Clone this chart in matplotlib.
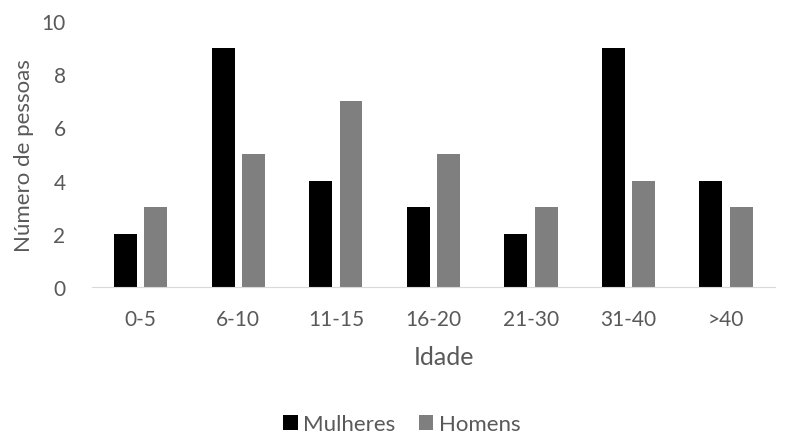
import matplotlib.pyplot as plt
import numpy as np

# age groups and counts per gender
categories = ["0-5", "6-10", "11-15", "16-20", "21-30", "31-40", ">40"]
mulheres = [2, 9, 4, 3, 2, 9, 4]
homens = [3, 5, 7, 5, 3, 4, 3]
y_ticks = [0, 2, 4, 6, 8, 10]

plt.rcParams['font.family'] = ['Lato', 'DejaVu Sans']
text_color = "#595959"

fig = plt.figure(figsize=(7.89, 4.35), dpi=100)
axes = fig.add_axes([0.1166, 0.338, 0.8654, 0.611])

x = np.arange(len(categories))
width = 0.235
axes.bar(x - 0.155, mulheres, width, color="#000000", label="Mulheres")
axes.bar(x + 0.155, homens, width, color="#7f7f7f", label="Homens")

axes.set_xlim(-0.5, len(categories) - 0.5)
axes.set_ylim(0, 10)
axes.set_xticks(x)
axes.set_xticklabels(categories)
axes.set_yticks(y_ticks)
axes.tick_params(length=0, labelsize=15, colors=text_color)
axes.tick_params(axis='x', pad=16)
axes.tick_params(axis='y', pad=19)

for side in ["top", "right", "left"]:
    axes.spines[side].set_visible(False)
axes.spines["bottom"].set_color("#d9d9d9")

axes.set_xlabel("Idade", fontsize=18, color=text_color)
axes.xaxis.set_label_coords(0.515, -0.263)
axes.xaxis.label.set_va("center")
axes.set_ylabel("Número de pessoas", fontsize=16, color=text_color)
axes.yaxis.set_label_coords(-0.1, 0.5)
axes.yaxis.label.set_va("center")

fig.legend(loc="center", bbox_to_anchor=(0.5095, 0.022), ncol=2, frameon=False,
           fontsize=16, labelcolor=text_color, handlelength=0.65, handleheight=0.65,
           handletextpad=0.25, columnspacing=1.05)

fig.savefig("out.png", dpi=100)
plt.close()
